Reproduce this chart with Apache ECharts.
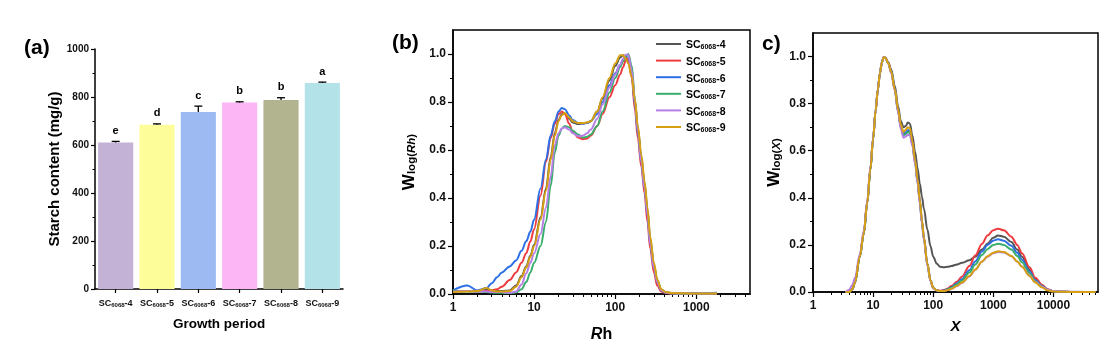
<!DOCTYPE html>
<html><head><meta charset="utf-8">
<script src="https://cdn.jsdelivr.net/npm/echarts@6/dist/echarts.min.js"></script>
<style>html,body{margin:0;padding:0;background:#fff}#c{width:1118px;height:357px}</style>
</head><body><div id="c"></div>
<script>
// ---------- Panel (a) data ----------
const barCategories = ['SC6068-4', 'SC6068-5', 'SC6068-6', 'SC6068-7', 'SC6068-8', 'SC6068-9'];
const starchMean = [610, 684, 738, 777, 787, 858];
const starchErr = [5, 4, 24, 3, 10, 4];
const sigLetters = ['e', 'd', 'c', 'b', 'b', 'a'];
const yTicksA = [0, 200, 400, 600, 800, 1000];

// ---------- Panel (b) data: Rh vs W_log(Rh) ----------
const rhValues = [1, 1.5, 2, 2.6, 3, 3.5, 4, 5, 6, 7, 8, 9, 10, 12, 14, 16, 18, 20, 22, 24, 27, 30, 35, 40, 45, 50, 60, 70, 85, 100, 115, 125, 135, 145, 160, 175, 190, 210, 230, 250, 270, 300, 330, 370, 420, 500, 700, 1000, 1400, 1800];
const wRh_SC4 = [0.01, 0.012, 0.012, 0.02, 0.015, 0.012, 0.012, 0.015, 0.035, 0.075, 0.115, 0.16, 0.205, 0.32, 0.44, 0.57, 0.67, 0.725, 0.75, 0.752, 0.73, 0.715, 0.708, 0.71, 0.714, 0.72, 0.76, 0.815, 0.89, 0.95, 0.985, 0.995, 0.99, 0.97, 0.91, 0.80, 0.69, 0.57, 0.46, 0.35, 0.23, 0.12, 0.055, 0.018, 0.007, 0.003, 0.002, 0.002, 0.002, 0.002];
const wRh_SC5 = [0.01, 0.012, 0.01, 0.012, 0.015, 0.02, 0.03, 0.058, 0.09, 0.13, 0.17, 0.22, 0.27, 0.41, 0.55, 0.65, 0.71, 0.75, 0.76, 0.75, 0.71, 0.675, 0.652, 0.645, 0.648, 0.66, 0.70, 0.75, 0.82, 0.87, 0.915, 0.945, 0.975, 0.98, 0.90, 0.77, 0.65, 0.53, 0.42, 0.30, 0.19, 0.09, 0.035, 0.01, 0.004, 0.002, 0.002, 0.002, 0.002, 0.003];
const wRh_SC6 = [0.015, 0.035, 0.015, 0.025, 0.045, 0.07, 0.09, 0.115, 0.14, 0.18, 0.22, 0.26, 0.31, 0.44, 0.56, 0.66, 0.72, 0.76, 0.775, 0.77, 0.745, 0.725, 0.712, 0.71, 0.712, 0.72, 0.75, 0.80, 0.87, 0.92, 0.955, 0.975, 0.99, 0.995, 0.92, 0.79, 0.67, 0.55, 0.44, 0.33, 0.21, 0.11, 0.05, 0.015, 0.006, 0.003, 0.002, 0.002, 0.003, 0.005];
const wRh_SC7 = [0.015, 0.01, 0.01, 0.008, 0.006, 0.005, 0.005, 0.004, 0.006, 0.02, 0.05, 0.09, 0.13, 0.20, 0.30, 0.45, 0.59, 0.66, 0.69, 0.70, 0.695, 0.68, 0.665, 0.652, 0.655, 0.665, 0.70, 0.76, 0.84, 0.90, 0.945, 0.97, 0.99, 1.0, 0.95, 0.81, 0.69, 0.56, 0.45, 0.34, 0.22, 0.12, 0.055, 0.018, 0.007, 0.003, 0.002, 0.002, 0.002, 0.002];
const wRh_SC8 = [0.01, 0.012, 0.01, 0.01, 0.008, 0.008, 0.008, 0.005, 0.01, 0.04, 0.086, 0.13, 0.17, 0.25, 0.36, 0.49, 0.62, 0.67, 0.69, 0.695, 0.685, 0.67, 0.657, 0.66, 0.67, 0.685, 0.73, 0.79, 0.86, 0.915, 0.955, 0.98, 0.997, 0.997, 0.93, 0.80, 0.68, 0.55, 0.44, 0.33, 0.21, 0.11, 0.05, 0.016, 0.006, 0.003, 0.002, 0.002, 0.002, 0.002];
const wRh_SC9 = [0.008, 0.01, 0.012, 0.025, 0.015, 0.01, 0.01, 0.012, 0.03, 0.07, 0.11, 0.155, 0.20, 0.31, 0.43, 0.56, 0.66, 0.72, 0.745, 0.754, 0.735, 0.72, 0.712, 0.712, 0.715, 0.72, 0.76, 0.82, 0.90, 0.96, 0.995, 0.995, 0.98, 0.96, 0.905, 0.81, 0.70, 0.58, 0.47, 0.36, 0.24, 0.13, 0.06, 0.02, 0.008, 0.004, 0.003, 0.002, 0.002, 0.002];

// ---------- Panel (c) data: X vs W_log(X) ----------
const xValues = [3.5, 4, 4.5, 5, 6, 7, 8, 9, 10, 11, 12, 13, 14, 15, 16, 18, 20, 23, 26, 29, 32, 35, 38, 41, 45, 50, 55, 60, 65, 70, 80, 90, 100, 115, 130, 150, 175, 200, 250, 300, 400, 500, 650, 800, 1000, 1200, 1500, 2000, 2500, 3000, 4000, 5000, 6500, 8000, 10000, 15000, 25000, 50000];
const wX_SC4 = [0, 0, 0.012, 0.04, 0.15, 0.25, 0.38, 0.52, 0.65, 0.77, 0.86, 0.93, 0.975, 0.997, 0.995, 0.975, 0.945, 0.875, 0.79, 0.725, 0.70, 0.705, 0.72, 0.715, 0.665, 0.595, 0.525, 0.46, 0.405, 0.355, 0.265, 0.195, 0.15, 0.12, 0.107, 0.105, 0.107, 0.11, 0.117, 0.124, 0.135, 0.15, 0.18, 0.205, 0.23, 0.24, 0.235, 0.212, 0.18, 0.15, 0.095, 0.055, 0.025, 0.01, 0.003, 0.001, 0, 0];
const wX_SC5 = [0, 0, 0.012, 0.04, 0.15, 0.25, 0.38, 0.52, 0.65, 0.77, 0.86, 0.93, 0.975, 0.997, 0.995, 0.97, 0.935, 0.86, 0.77, 0.70, 0.668, 0.675, 0.685, 0.68, 0.63, 0.555, 0.47, 0.385, 0.30, 0.23, 0.12, 0.05, 0.018, 0.007, 0.005, 0.008, 0.015, 0.025, 0.045, 0.065, 0.11, 0.155, 0.205, 0.24, 0.262, 0.269, 0.262, 0.235, 0.20, 0.165, 0.105, 0.06, 0.03, 0.012, 0.004, 0.001, 0, 0];
const wX_SC6 = [0, 0, 0.012, 0.04, 0.15, 0.25, 0.38, 0.52, 0.65, 0.77, 0.86, 0.93, 0.975, 0.997, 0.995, 0.97, 0.935, 0.86, 0.77, 0.70, 0.67, 0.678, 0.688, 0.682, 0.63, 0.555, 0.47, 0.385, 0.30, 0.23, 0.12, 0.05, 0.018, 0.007, 0.004, 0.006, 0.012, 0.02, 0.037, 0.054, 0.092, 0.13, 0.172, 0.20, 0.218, 0.224, 0.218, 0.196, 0.167, 0.137, 0.087, 0.05, 0.025, 0.01, 0.003, 0.001, 0, 0];
const wX_SC7 = [0, 0, 0.012, 0.04, 0.15, 0.25, 0.38, 0.52, 0.65, 0.77, 0.86, 0.93, 0.975, 0.997, 0.995, 0.97, 0.935, 0.86, 0.77, 0.70, 0.665, 0.67, 0.68, 0.675, 0.625, 0.55, 0.465, 0.38, 0.295, 0.225, 0.115, 0.048, 0.017, 0.007, 0.004, 0.005, 0.011, 0.018, 0.033, 0.048, 0.083, 0.117, 0.157, 0.182, 0.20, 0.205, 0.20, 0.18, 0.153, 0.126, 0.08, 0.046, 0.023, 0.009, 0.003, 0.001, 0, 0];
const wX_SC8 = [0, 0.01, 0.03, 0.06, 0.16, 0.26, 0.39, 0.53, 0.655, 0.77, 0.86, 0.93, 0.975, 0.997, 0.995, 0.97, 0.93, 0.855, 0.765, 0.69, 0.655, 0.66, 0.668, 0.665, 0.62, 0.545, 0.46, 0.375, 0.29, 0.22, 0.112, 0.046, 0.016, 0.006, 0.004, 0.004, 0.008, 0.013, 0.026, 0.038, 0.066, 0.094, 0.128, 0.15, 0.165, 0.17, 0.168, 0.152, 0.13, 0.108, 0.07, 0.043, 0.022, 0.01, 0.004, 0.002, 0.001, 0];
const wX_SC9 = [0, 0, 0.012, 0.04, 0.15, 0.25, 0.38, 0.52, 0.65, 0.77, 0.86, 0.93, 0.975, 0.997, 0.995, 0.97, 0.935, 0.86, 0.775, 0.71, 0.68, 0.69, 0.70, 0.695, 0.64, 0.56, 0.475, 0.39, 0.305, 0.232, 0.12, 0.05, 0.018, 0.007, 0.004, 0.004, 0.008, 0.014, 0.027, 0.04, 0.068, 0.096, 0.13, 0.152, 0.167, 0.173, 0.17, 0.153, 0.13, 0.107, 0.068, 0.04, 0.019, 0.007, 0.002, 0.001, 0, 0];

const seriesNames = ['SC6068-4', 'SC6068-5', 'SC6068-6', 'SC6068-7', 'SC6068-8', 'SC6068-9'];
const rhTickLabels = [1, 10, 100, 1000];
const xTickLabels = [1, 10, 100, 1000, 10000];
const wTickLabels = [0, 0.2, 0.4, 0.6, 0.8, 1.0];

// ---------- styling ----------
const F = "'Liberation Sans', Arial, sans-serif";
const barColors = ['#c4b2d6', '#fdfd9a', '#9dbbf2', '#fcb6f6', '#b1b48f', '#b3e3e9'];
const lineColors = ['#555555', '#ee3b3f', '#2d6fe6', '#3aae6c', '#b67ee6', '#d6a012'];
const RH_MAX_LOG = 3.662, X_MAX_LOG = 4.742;

function scRich(name) {
  const m = name.trim().match(/^SC(\d+)(-\d+)$/);
  return '{a|SC}{s|' + m[1] + '}{a|' + m[2] + '}';
}
function minorLog(maxLog) {
  const out = [];
  for (let d = 0; d < 6; d++) for (let k = 2; k <= 9; k++) {
    const v = d + Math.log10(k);
    if (v < maxLog) out.push(v);
  }
  return out;
}
const axisLineStyle = { show: true, lineStyle: { color: '#000', width: 1.5 } };
const tickLbl = { fontFamily: F, fontWeight: 'bold', fontSize: 12, color: '#111' };

const wNameRich = {
  w: { fontFamily: F, fontWeight: 'bold', fontSize: 17, lineHeight: 26, verticalAlign: 'bottom', color: '#000' },
  s: { fontFamily: F, fontWeight: 'bold', fontSize: 11.5, lineHeight: 12, verticalAlign: 'bottom', color: '#000' },
  i: { fontFamily: F, fontWeight: 'bold', fontStyle: 'italic', fontSize: 11.5, lineHeight: 12, verticalAlign: 'bottom', color: '#000' }
};

const chart = echarts.init(document.getElementById('c'), null, { renderer: 'canvas' });

function lineSeries(xs, ys, xi, yi, name, color) {
  return {
    type: 'line', name: name, xAxisIndex: xi, yAxisIndex: yi,
    data: xs.map((x, i) => [Math.log10(x), ys[i]]),
    showSymbol: false, symbol: 'none', smooth: 0.35, smoothMonotone: 'x',
    lineStyle: { color: color, width: 2 }, itemStyle: { color: color },
    z: 3, silent: true, animation: false
  };
}

const bSeries = [wRh_SC4, wRh_SC5, wRh_SC6, wRh_SC7, wRh_SC8, wRh_SC9];
const cSeries = [wX_SC4, wX_SC5, wX_SC6, wX_SC7, wX_SC8, wX_SC9];

const option = {
  animation: false,
  backgroundColor: '#fff',
  title: [
    { text: '(a)', left: 24, top: 38, padding: 0, textStyle: { fontFamily: F, fontWeight: 'bold', fontSize: 21, color: '#000' } },
    { text: '(b)', left: 392, top: 33, padding: 0, textStyle: { fontFamily: F, fontWeight: 'bold', fontSize: 21, color: '#000' } },
    { text: 'c)', left: 762, top: 34, padding: 0, textStyle: { fontFamily: F, fontWeight: 'bold', fontSize: 21, color: '#000' } }
  ],
  legend: {
    orient: 'vertical', left: 656, top: 40, padding: 0,
    icon: 'rect', itemWidth: 25, itemHeight: 2, itemGap: 5.6,
    data: seriesNames,
    formatter: scRich,
    textStyle: {
      rich: {
        a: { fontFamily: F, fontWeight: 'bold', fontSize: 10.5, lineHeight: 14, verticalAlign: 'bottom', color: '#000' },
        s: { fontFamily: F, fontWeight: 'bold', fontSize: 7, lineHeight: 7, verticalAlign: 'bottom', color: '#000' }
      }
    }
  },
  grid: [
    { left: 95, top: 49, width: 248, height: 240 },
    { left: 453, top: 30, width: 297, height: 264, show: true, borderColor: '#000', borderWidth: 1.5, backgroundColor: 'transparent' },
    { left: 813, top: 33, width: 285, height: 259, show: true, borderColor: '#000', borderWidth: 1.5, backgroundColor: 'transparent' }
  ],
  xAxis: [
    {
      type: 'category', gridIndex: 0, data: barCategories,
      axisLine: axisLineStyle,
      axisTick: { show: true, alignWithLabel: true, inside: false, length: 4, interval: 0, lineStyle: { color: '#000', width: 1.2 } },
      axisLabel: {
        margin: 5, interval: 0, hideOverlap: false, formatter: scRich,
        rich: {
          a: { fontFamily: F, fontWeight: 'bold', fontSize: 9, lineHeight: 14, verticalAlign: 'bottom', color: '#111' },
          s: { fontFamily: F, fontWeight: 'bold', fontSize: 6, lineHeight: 6, verticalAlign: 'bottom', color: '#111' }
        }
      },
      name: 'Growth period', nameLocation: 'middle', nameGap: 28,
      nameTextStyle: { fontFamily: F, fontWeight: 'bold', fontSize: 13.5, color: '#000' },
      splitLine: { show: false }
    },
    {
      type: 'value', gridIndex: 1, min: 0, max: RH_MAX_LOG, interval: 1,
      axisLine: axisLineStyle,
      axisTick: { show: true, inside: false, length: 5, customValues: rhTickLabels.map(v => Math.log10(v)), lineStyle: { color: '#000', width: 1.2 } },
      axisLabel: { ...tickLbl, margin: 8, customValues: rhTickLabels.map(v => Math.log10(v)), formatter: v => String(Math.round(Math.pow(10, v))) },
      splitLine: { show: false },
      name: '{i|R}{n|h}', nameLocation: 'middle', nameGap: 33,
      nameTextStyle: { rich: {
        i: { fontFamily: F, fontWeight: 'bold', fontStyle: 'italic', fontSize: 16, color: '#000' },
        n: { fontFamily: F, fontWeight: 'bold', fontSize: 16, color: '#000' } } }
    },
    {
      type: 'value', gridIndex: 1, min: 0, max: RH_MAX_LOG, position: 'bottom',
      axisLine: { show: false }, axisLabel: { show: false }, splitLine: { show: false },
      axisTick: { show: true, inside: false, length: 3, customValues: minorLog(RH_MAX_LOG), lineStyle: { color: '#000', width: 1 } }
    },
    {
      type: 'value', gridIndex: 2, min: 0, max: X_MAX_LOG, interval: 1,
      axisLine: axisLineStyle,
      axisTick: { show: true, inside: false, length: 5, customValues: xTickLabels.map(v => Math.log10(v)), lineStyle: { color: '#000', width: 1.2 } },
      axisLabel: { ...tickLbl, margin: 8, customValues: xTickLabels.map(v => Math.log10(v)), formatter: v => String(Math.round(Math.pow(10, v))) },
      splitLine: { show: false },
      name: '{i|X}', nameLocation: 'middle', nameGap: 27,
      nameTextStyle: { rich: { i: { fontFamily: F, fontStyle: 'italic', fontWeight: 'bold', fontSize: 15, color: '#000' } } }
    },
    {
      type: 'value', gridIndex: 2, min: 0, max: X_MAX_LOG, position: 'bottom',
      axisLine: { show: false }, axisLabel: { show: false }, splitLine: { show: false },
      axisTick: { show: true, inside: false, length: 3, customValues: minorLog(X_MAX_LOG), lineStyle: { color: '#000', width: 1 } }
    }
  ],
  yAxis: [
    {
      type: 'value', gridIndex: 0, min: 0, max: 1000, interval: 200,
      axisLine: axisLineStyle,
      axisTick: { show: true, inside: false, length: 4, lineStyle: { color: '#000', width: 1.2 } },
      minorTick: { show: true, splitNumber: 2, length: 2.5, lineStyle: { color: '#000', width: 1 } },
      axisLabel: { fontFamily: F, fontWeight: 'bold', fontSize: 10, color: '#111', margin: 6, formatter: v => String(v) },
      splitLine: { show: false },
      name: 'Starch content (mg/g)', nameLocation: 'middle', nameGap: 32,
      nameTextStyle: { fontFamily: F, fontWeight: 'bold', fontSize: 15, color: '#000' }
    },
    {
      type: 'value', gridIndex: 1, min: 0, max: 1.1, interval: 0.2,
      axisLine: axisLineStyle,
      axisTick: { show: true, inside: false, length: 5, customValues: wTickLabels, lineStyle: { color: '#000', width: 1.2 } },
      axisLabel: { ...tickLbl, margin: 7, customValues: wTickLabels, formatter: v => v.toFixed(1) },
      splitLine: { show: false },
      name: '{w|W}{s|log(}{i|Rh}{s|)}', nameLocation: 'middle', nameGap: 35,
      nameTextStyle: { rich: wNameRich }
    },
    {
      type: 'value', gridIndex: 1, min: 0, max: 1.1, position: 'left',
      axisLine: { show: false }, axisLabel: { show: false }, splitLine: { show: false },
      axisTick: { show: true, inside: false, length: 3, customValues: [0.1, 0.3, 0.5, 0.7, 0.9], lineStyle: { color: '#000', width: 1 } }
    },
    {
      type: 'value', gridIndex: 2, min: 0, max: 1.1, interval: 0.2,
      axisLine: axisLineStyle,
      axisTick: { show: true, inside: false, length: 5, customValues: wTickLabels, lineStyle: { color: '#000', width: 1.2 } },
      axisLabel: { ...tickLbl, margin: 7, customValues: wTickLabels, formatter: v => v.toFixed(1) },
      splitLine: { show: false },
      name: '{w|W}{s|log(}{i|X}{s|)}', nameLocation: 'middle', nameGap: 30,
      nameTextStyle: { rich: wNameRich }
    },
    {
      type: 'value', gridIndex: 2, min: 0, max: 1.1, position: 'left',
      axisLine: { show: false }, axisLabel: { show: false }, splitLine: { show: false },
      axisTick: { show: true, inside: false, length: 3, customValues: [0.1, 0.3, 0.5, 0.7, 0.9], lineStyle: { color: '#000', width: 1 } }
    }
  ],
  series: [
    {
      type: 'bar', xAxisIndex: 0, yAxisIndex: 0, barWidth: '85%',
      data: starchMean.map((v, i) => ({ value: v, itemStyle: { color: barColors[i] } })),
      silent: true
    },
    {
      type: 'custom', xAxisIndex: 0, yAxisIndex: 0, z: 5, silent: true,
      data: starchMean.map((v, i) => [i, v, starchErr[i]]),
      encode: { x: 0, y: 1 },
      renderItem: function (params, api) {
        const i = api.value(0), m = api.value(1), e = api.value(2);
        const base = api.coord([i, m]);
        const top = api.coord([i, m + e]);
        const half = 4;
        const ls = { stroke: '#000', lineWidth: 1.3 };
        return {
          type: 'group', children: [
            { type: 'line', shape: { x1: base[0], y1: base[1], x2: top[0], y2: top[1] }, style: ls },
            { type: 'line', shape: { x1: top[0] - half, y1: top[1], x2: top[0] + half, y2: top[1] }, style: ls },
            { type: 'text', x: top[0], y: top[1] - 5, style: { text: sigLetters[i], align: 'center', verticalAlign: 'bottom', fontFamily: F, fontWeight: 'bold', fontSize: 11, fill: '#000' } }
          ]
        };
      }
    },
    ...bSeries.map((arr, k) => lineSeries(rhValues, arr, 1, 1, seriesNames[k], lineColors[k])),
    ...cSeries.map((arr, k) => lineSeries(xValues, arr, 3, 3, seriesNames[k] + ' ', lineColors[k]))
  ]
};
chart.setOption(option);
</script></body></html>
